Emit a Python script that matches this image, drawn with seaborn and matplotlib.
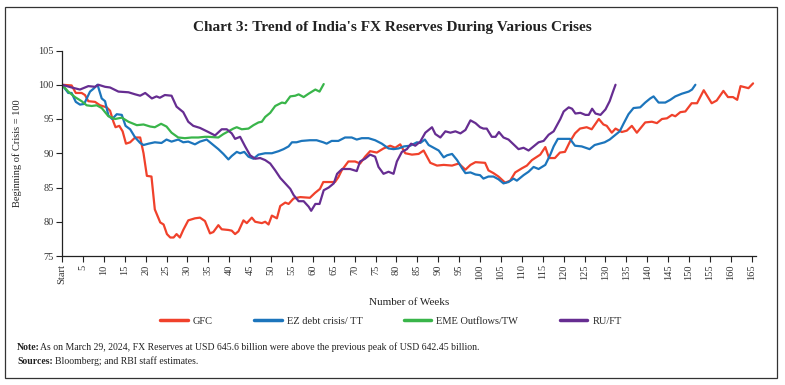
import numpy as np
import pandas as pd
import seaborn as sns
import matplotlib
matplotlib.use("Agg")
import matplotlib.pyplot as plt
from matplotlib.patches import Rectangle

# ---------------- data (weeks since start, index: beginning of crisis = 100) -------------
gfc_weeks = [0, 2.3, 3.3, 4.7, 5.5, 6.3, 7.9, 9.1, 10.7, 11.5, 12.3, 12.8, 13.7, 14.5, 15.3, 16.3,
             17.5, 18.7, 19.5, 20.3, 21.4, 22.2, 23.5, 24.3, 25.1, 25.9, 26.7, 27.4, 28.2, 29.0,
             30.2, 31.8, 33.0, 34.2, 35.4, 36.2, 37.4, 38.2, 39.8, 40.6, 41.4, 42.2, 43.4, 44.2,
             45.4, 46.2, 47.8, 48.6, 49.4, 50.2, 51.4, 52.2, 53.4, 54.2, 55.4, 57.0, 59.3, 60.5,
             61.7, 62.5, 64.0, 65.3, 66.1, 66.9, 68.5, 70.1, 71.3, 72.5, 73.7, 75.3, 76.9, 78.5,
             79.7, 80.9, 82.1, 83.7, 85.3, 86.5, 88.1, 89.7, 91.3, 93.3, 94.9, 96.5, 97.7, 98.9,
             101.2, 102.0, 103.2, 104.4, 106.0, 107.2, 108.4, 110.0, 111.2, 112.4, 114.4, 115.6,
             116.5, 117.9, 119.1, 120.3, 121.5, 122.7, 123.9, 125.5, 126.7, 128.4, 129.5, 130.3,
             131.5, 132.4, 133.9, 135.1, 136.3, 137.5, 139.5, 141.1, 142.3, 143.5, 144.7, 145.9,
             146.7, 147.9, 149.1, 150.6, 151.9, 153.5, 155.4, 156.6, 158.2, 159.3, 160.5, 161.5,
             162.3, 164.2, 165.3]
gfc_values = [100, 99.9, 98.8, 98.8, 98.5, 97.6, 97.5, 97.0, 96.7, 96.2, 94.6, 93.8, 94.0, 93.2,
              91.4, 91.6, 92.3, 92.3, 90.0, 86.7, 86.6, 81.8, 79.9, 79.6, 78.2, 77.7, 77.7, 78.2,
              77.7, 78.8, 80.2, 80.5, 80.6, 80.1, 78.3, 78.5, 79.5, 78.9, 78.8, 78.7, 78.2, 78.6,
              80.2, 79.8, 80.6, 80.0, 79.8, 80.0, 79.6, 80.9, 80.5, 82.3, 82.8, 82.6, 83.4, 83.6,
              83.5, 84.2, 84.8, 85.8, 85.8, 85.8, 86.5, 87.5, 88.8, 88.8, 88.5, 89.5, 90.3, 90.1,
              90.7, 91.1, 90.8, 91.3, 90.0, 89.8, 89.9, 90.4, 88.6, 88.2, 88.3, 88.2, 88.5, 87.6,
              88.3, 88.7, 88.6, 87.5, 87.1, 86.6, 85.7, 86.0, 87.2, 87.8, 88.2, 89.0, 89.8, 90.9,
              89.3, 89.3, 90.1, 90.2, 91.7, 92.9, 93.6, 93.8, 93.5, 95.0, 94.2, 94.0, 93.0, 93.6,
              93.1, 93.3, 94.0, 93.0, 94.5, 94.6, 94.4, 95.0, 95.1, 95.6, 95.4, 96.0, 96.1, 97.3,
              97.3, 99.2, 97.3, 97.7, 99.1, 98.2, 98.2, 97.8, 99.8, 99.5, 100.2]

ez_weeks = [0, 1.5, 2.3, 3.3, 4.3, 5.3, 6.7, 7.5, 8.5, 9.5, 10.3, 11.1, 12.0, 13.1, 14.3, 15.2,
            16.3, 17.5, 18.7, 19.5, 20.7, 22.2, 23.8, 25.0, 26.2, 27.8, 29.0, 30.2, 31.8, 33.0,
            34.6, 35.8, 37.4, 38.6, 39.8, 40.6, 41.8, 42.6, 43.6, 44.6, 45.8, 47.0, 48.6, 50.2,
            51.8, 53.0, 54.2, 55.0, 56.1, 57.3, 59.3, 60.9, 62.5, 63.3, 64.5, 66.1, 67.7, 69.3,
            70.5, 71.7, 73.3, 74.9, 76.5, 78.1, 79.3, 80.5, 81.8, 83.3, 84.9, 85.7, 86.8, 87.7,
            88.9, 90.1, 91.3, 92.1, 93.3, 94.5, 95.7, 96.5, 97.7, 98.9, 100.0, 100.8, 102.0,
            103.2, 104.4, 105.6, 106.8, 108.0, 108.8, 110.4, 111.6, 112.8, 114.0, 115.6, 116.8,
            117.6, 118.6, 120.3, 121.5, 122.7, 124.3, 126.2, 127.4, 128.6, 129.8, 131.0, 132.2,
            133.4, 134.3, 135.5, 136.7, 138.3, 139.5, 140.7, 141.5, 142.7, 144.3, 145.5, 146.7,
            148.3, 149.9, 150.7, 151.5]
ez_values = [100, 98.8, 98.8, 97.5, 97.1, 97.2, 99.0, 99.4, 100.0, 98.0, 97.6, 95.5, 95.0, 95.7,
             95.6, 94.0, 93.5, 92.3, 91.5, 91.2, 91.4, 91.6, 91.5, 92.0, 91.7, 92.0, 91.6, 91.7,
             91.3, 91.7, 92.0, 91.4, 90.6, 89.9, 89.1, 89.6, 90.2, 90.0, 90.2, 89.5, 89.2, 89.8,
             90.0, 90.0, 90.3, 90.6, 91.0, 91.6, 91.6, 91.8, 91.9, 91.9, 91.6, 91.4, 91.8, 91.8,
             92.3, 92.3, 92.0, 92.2, 92.2, 91.9, 91.4, 90.7, 90.6, 90.7, 91.0, 91.1, 91.6, 91.5,
             92.0, 91.2, 90.8, 90.4, 89.4, 89.7, 89.9, 89.0, 87.8, 87.1, 87.2, 86.9, 86.8, 86.3,
             86.6, 86.6, 86.2, 85.6, 85.8, 86.3, 86.0, 86.8, 87.3, 88.0, 87.7, 88.3, 89.8, 91.0,
             92.1, 92.1, 92.1, 91.1, 91.0, 90.6, 91.2, 91.4, 91.6, 92.0, 92.6, 93.2, 94.3, 95.7,
             96.6, 96.7, 97.4, 98.0, 98.3, 97.4, 97.4, 97.8, 98.3, 98.7, 99.0, 99.3, 100.0]

eme_weeks = [0, 1.5, 3.1, 4.7, 5.9, 7.1, 8.3, 9.5, 11.1, 12.7, 14.3, 15.9, 17.9, 19.5, 21.1,
             22.2, 23.7, 25.0, 26.2, 27.8, 29.4, 31.0, 32.6, 34.2, 35.0, 37.4, 38.6, 39.8, 41.0,
             41.8, 43.0, 44.6, 45.8, 47.0, 47.8, 48.6, 49.8, 51.0, 52.6, 53.4, 54.6, 55.8, 56.6,
             57.8, 59.0, 60.6, 61.6, 62.6]
eme_values = [100, 99.0, 98.2, 97.6, 97.0, 96.9, 97.0, 96.6, 95.4, 95.0, 95.2, 94.6, 94.1, 94.2,
              93.9, 93.8, 94.3, 93.9, 93.0, 92.3, 92.2, 92.3, 92.3, 92.4, 92.4, 92.3, 92.8, 93.2,
              93.6, 93.8, 93.5, 93.6, 94.1, 94.5, 94.6, 95.3, 95.9, 96.9, 97.4, 97.3, 98.3, 98.4,
              98.6, 98.2, 98.7, 99.3, 99.0, 100.1]

ru_weeks = [0, 2.3, 4.3, 6.3, 7.9, 8.7, 10.3, 11.5, 13.5, 15.9, 17.5, 18.7, 19.9, 21.5, 22.6,
            23.4, 24.6, 26.2, 27.4, 29.0, 30.2, 31.4, 33.0, 35.0, 36.6, 38.2, 39.4, 40.6, 41.4,
            42.6, 43.8, 45.0, 46.2, 47.4, 48.6, 49.8, 51.0, 52.2, 53.4, 54.6, 55.4, 56.6, 57.8,
            59.0, 59.6, 60.6, 61.6, 62.6, 63.8, 65.0, 65.8, 67.0, 68.9, 70.5, 71.3, 72.5, 73.7,
            74.9, 75.7, 76.9, 78.1, 79.3, 80.1, 81.3, 82.5, 83.5, 84.5, 85.7, 86.9, 88.5, 89.3,
            90.5, 91.7, 92.9, 94.1, 95.3, 96.5, 97.7, 98.9, 100.0, 100.8, 101.6, 102.8, 103.7,
            104.5, 105.6, 106.8, 108.0, 109.2, 110.4, 111.6, 112.8, 114.0, 115.2, 116.4, 117.6,
            118.4, 119.2, 120.0, 121.2, 122.0, 122.8, 124.0, 125.2, 126.0, 126.8, 127.6, 128.8,
            130.0, 131.0, 131.8, 132.4]
ru_values = [100, 99.6, 99.3, 99.8, 99.7, 100.0, 99.7, 99.6, 99.0, 98.9, 98.6, 98.4, 98.8, 98.0,
             98.3, 98.1, 98.5, 98.4, 96.8, 96.0, 94.6, 94.0, 93.7, 93.1, 92.6, 93.5, 93.5, 92.9,
             92.1, 92.4, 91.0, 89.7, 89.2, 89.3, 89.0, 88.5, 87.5, 86.4, 85.6, 84.8, 83.9, 83.0,
             83.0, 82.2, 81.6, 82.6, 82.6, 84.6, 85.0, 85.6, 87.0, 87.7, 87.7, 87.4, 88.8, 89.2,
             89.8, 89.5, 88.0, 87.0, 87.3, 87.0, 88.8, 90.2, 90.6, 91.4, 91.1, 91.7, 93.0, 93.8,
             92.8, 92.3, 93.2, 93.0, 93.2, 92.9, 93.4, 94.8, 94.4, 93.8, 93.6, 93.6, 92.4, 92.4,
             93.1, 92.3, 92.0, 91.3, 90.6, 90.8, 90.4, 91.0, 91.6, 91.8, 92.7, 93.2, 94.1, 95.0,
             96.1, 96.7, 96.5, 95.8, 95.9, 95.6, 95.6, 96.5, 95.8, 95.6, 96.4, 97.6, 99.0, 100.0]

series_names = ["GFC", "EZ debt crisis/ TT", "EME Outflows/TW", "RU/FT"]
series_colors = ["#F0412B", "#1C75BC", "#39B54A", "#662D91"]
x_ticks = list(range(0, 166, 5))
x_tick_labels = ["Start"] + [str(t) for t in x_ticks[1:]]
y_ticks = [75, 80, 85, 90, 95, 100, 105]

frames = []
for name, w, v in zip(series_names,
                      [gfc_weeks, ez_weeks, eme_weeks, ru_weeks],
                      [gfc_values, ez_values, eme_values, ru_values]):
    frames.append(pd.DataFrame({"week": w, "value": v, "series": name}))
df = pd.concat(frames, ignore_index=True)

# ---------------- figure ----------------
sns.set_theme(style="white")
plt.rcParams["font.family"] = ["Liberation Serif", "DejaVu Serif"]

fig = plt.figure(figsize=(7.85, 3.85), dpi=100)
ax = fig.add_axes([62 / 785, 1 - 256 / 385, (756 - 62) / 785, (256 - 50.5) / 385])

sns.lineplot(data=df, x="week", y="value", hue="series", hue_order=series_names,
             palette=series_colors, estimator=None, sort=False, linewidth=1.6, ax=ax,
             legend=True)

ax.set_xlim(0, 166)
ax.set_ylim(75, 105)
ax.set_xticks(x_ticks)
ax.set_xticklabels(x_tick_labels, rotation=90, fontsize=7.5, color="#333333")
ax.set_yticks(y_ticks)
ax.set_yticklabels([str(t) for t in y_ticks], fontsize=7.5, color="#333333")
ax.tick_params(axis="both", direction="out", length=4, width=0.8, color="#222222",
               bottom=True, left=True, pad=2)
for s in ["top", "right"]:
    ax.spines[s].set_visible(False)
for s in ["left", "bottom"]:
    ax.spines[s].set_color("#222222")
    ax.spines[s].set_linewidth(0.9)
ax.grid(False)

ax.set_xlabel("Number of Weeks", fontsize=8, color="#222222", labelpad=10)
ax.set_ylabel("Beginning of Crisis = 100", fontsize=7.5, color="#222222", labelpad=12)

handles, labels = ax.get_legend_handles_labels()
ax.legend(handles, labels, loc="center", bbox_to_anchor=(391 / 785, 1 - 321 / 385),
          bbox_transform=fig.transFigure, ncol=4, frameon=False, fontsize=7.5,
          handlelength=2.6, columnspacing=4.0, handletextpad=0.5)
for line in ax.get_legend().get_lines():
    line.set_linewidth(2.5)

fig.text(0.5, 1 - 27 / 385, "Chart 3: Trend of India's FX Reserves During Various Crises",
         ha="center", va="center", fontsize=11, fontweight="bold", color="#222222")

fig.text(17 / 785, 1 - 347 / 385, "Note:", ha="left", va="center", fontsize=7,
         fontweight="bold", color="#222222")
fig.text(40 / 785, 1 - 347 / 385,
         "As on March 29, 2024, FX Reserves at USD 645.6 billion were above the previous peak of USD 642.45 billion.",
         ha="left", va="center", fontsize=7, color="#222222")
fig.text(17 / 785, 1 - 361 / 385, "Sources:", ha="left", va="center", fontsize=7,
         fontweight="bold", color="#222222")
fig.text(55 / 785, 1 - 361 / 385, "Bloomberg; and RBI staff estimates.",
         ha="left", va="center", fontsize=7, color="#222222")

fig.patches.append(Rectangle((5 / 785, 1 - 378 / 385), 772 / 785, 371 / 385,
                             transform=fig.transFigure, fill=False, edgecolor="#333333",
                             linewidth=0.9))

fig.savefig("out.png", dpi=100)
